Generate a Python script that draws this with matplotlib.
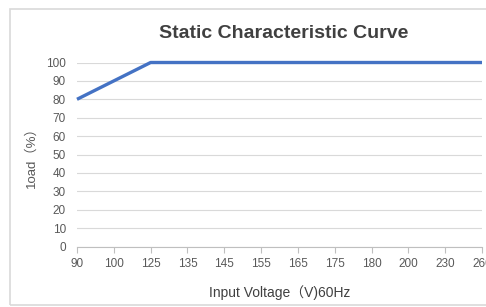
import matplotlib.pyplot as plt
from matplotlib.patches import Rectangle

# ==========================
# Données
# ==========================
voltages = ["90", "100", "125", "135", "145", "155", "165", "175", "180", "200", "230", "260"]
load = [80, 90, 100, 100, 100, 100, 100, 100, 100, 100, 100, 100]
y_ticks = [0, 10, 20, 30, 40, 50, 60, 70, 80, 90, 100]

fonts = ["Liberation Sans", "Noto Sans CJK SC", "DejaVu Sans"]
plt.rcParams["font.family"] = fonts

grey = "#595959"

# ==========================
# Graphique
# ==========================
fig = plt.figure(figsize=(4.86, 3.07), dpi=100)
ax = fig.add_axes([77 / 486, 1 - 246.5 / 307, (482 - 77) / 486, (246.5 - 62.5) / 307])

# cadre du graphique
fig.patches.append(Rectangle((10 / 486, 1 - 305 / 307), 480 / 486, 296 / 307,
                             transform=fig.transFigure, fill=False,
                             edgecolor="#d9d9d9", linewidth=1.2))

x = list(range(len(voltages)))
ax.plot(x, load, color="#4472C4", linewidth=2.4, solid_capstyle="butt", clip_on=False)

ax.set_xlim(0, len(voltages) - 1)
ax.set_ylim(0, 100)
ax.set_yticks(y_ticks)
ax.set_xticks(x)
ax.set_xticklabels(voltages)

ax.grid(axis="y", color="#d9d9d9", linewidth=0.8)
ax.set_axisbelow(True)
for side in ["top", "right", "left"]:
    ax.spines[side].set_visible(False)
ax.spines["bottom"].set_color("#bfbfbf")
ax.spines["bottom"].set_zorder(1)

ax.tick_params(axis="y", length=0, labelsize=8.5, labelcolor=grey, pad=8)
ax.tick_params(axis="x", length=4, color="#bfbfbf", labelsize=8.5, labelcolor=grey, pad=4)

ax.set_ylabel("1oad（%）", fontsize=9.5, color=grey, labelpad=6)
ax.set_xlabel("Input Voltage（V)60Hz", fontsize=10, color="#404040", labelpad=11)

fig.text(0.583, 1 - 33 / 307, "Static Characteristic Curve", ha="center", va="center",
         fontsize=14, fontweight="bold", color="#404040")

plt.savefig("out.png", dpi=100)
